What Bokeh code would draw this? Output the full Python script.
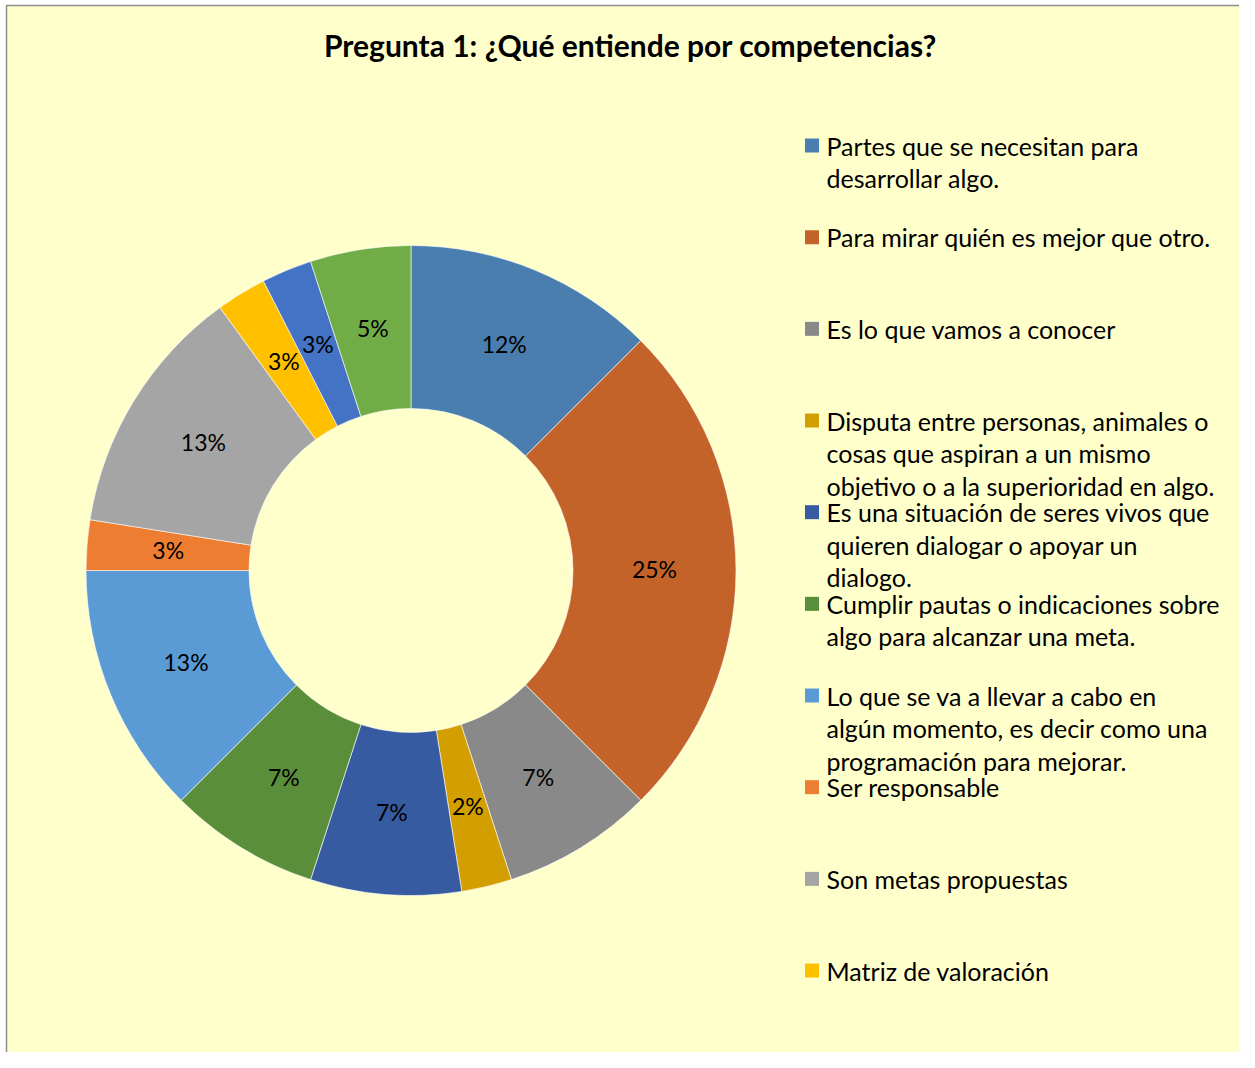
import numpy as np
from bokeh.plotting import figure
from bokeh.models import Range1d, ColumnDataSource
from bokeh.core.properties import value
from bokeh.embed import file_html
from bokeh.resources import INLINE

# ---- data ----
title = "Pregunta 1: ¿Qué entiende por competencias?"
categories = [
    "Partes que se necesitan para\ndesarrollar algo.",
    "Para mirar quién es mejor que otro.",
    "Es lo que vamos a conocer",
    "Disputa entre personas, animales o\ncosas que aspiran a un mismo\nobjetivo o a la superioridad en algo.",
    "Es una situación de seres vivos que\nquieren dialogar o apoyar un\ndialogo.",
    "Cumplir pautas o indicaciones sobre\nalgo para alcanzar una meta.",
    "Lo que se va a llevar a cabo en\nalgún momento, es decir como una\nprogramación para mejorar.",
    "Ser responsable",
    "Son metas propuestas",
    "Matriz de valoración",
    "Otro 1",
    "Otro 2",
]
values = [12.5, 25.0, 7.5, 2.5, 7.5, 7.5, 12.5, 2.5, 12.5, 2.5, 2.5, 5.0]
pct_labels = ["12%", "25%", "7%", "2%", "7%", "7%", "13%", "3%", "13%", "3%", "3%", "5%"]
colors = ["#4A7EAF", "#C3632A", "#898989", "#D29E00", "#375BA0", "#5B8E3B",
          "#5B9BD5", "#ED7D31", "#A5A5A5", "#FFC000", "#4472C4", "#70AD47"]
legend_count = 10  # only the first ten entries are visible in the legend

# ---- layout (image pixel coords -> data coords, y up) ----
W, H = 1239, 1052
IMG_H = 1068
def Y(img_y):
    return IMG_H - img_y

BG = "#FFFFCC"
FONT = "Lato"

p = figure(width=W, height=H, output_backend="svg", toolbar_location=None,
           x_range=Range1d(0, W), y_range=Range1d(IMG_H - H, IMG_H),
           min_border=0, background_fill_color="#FFFFFF", border_fill_color="#FFFFFF",
           outline_line_color=None)
p.axis.visible = False
p.grid.visible = False

# chart area frame
p.quad(left=[6], right=[1253], top=[Y(5)], bottom=[Y(1080)],
       fill_color=BG, line_color="#8C8C8C", line_width=1.5)

# ---- donut ----
cx, cy = 410.5, Y(570)
r_out, r_in = 325, 162
vals = np.array(values, dtype=float)
frac = vals / vals.sum()
cum_end = np.cumsum(frac)
cum_start = cum_end - frac
start = np.pi / 2 - 2 * np.pi * cum_end
end = np.pi / 2 - 2 * np.pi * cum_start
src = ColumnDataSource(dict(start=start, end=end, color=colors))
p.annular_wedge(x=cx, y=cy, inner_radius=r_in, outer_radius=r_out,
                start_angle="start", end_angle="end", fill_color="color",
                line_color="#FFFFFF", line_width=0.6, source=src)

mid = (start + end) / 2
r_lab = (r_in + r_out) / 2
lab_src = ColumnDataSource(dict(x=cx + r_lab * np.cos(mid), y=cy + r_lab * np.sin(mid) + 1.5, t=pct_labels))
p.text(x="x", y="y", text="t", source=lab_src, text_font=value(FONT),
       text_font_size="23px", text_align="center", text_baseline="middle",
       text_color="#000000")

# ---- title ----
p.text(x=[630], y=[Y(44)], text=[title], text_font=value(FONT),
       text_font_size="30px", text_font_style="bold", text_align="center",
       text_baseline="middle", text_color="#000000")

# ---- legend ----
sq_x, sq_y0 = 811.5, 145.0
txt_x, mid0 = 826.0, 145.0
step, line_gap = 91.67, 32.6
sq_xs, sq_ys, sq_cs = [], [], []
lx, ly, lt = [], [], []
for i in range(legend_count):
    sq_xs.append(sq_x)
    sq_ys.append(Y(sq_y0 + i * step))
    sq_cs.append(colors[i])
    for j, line in enumerate(categories[i].split("\n")):
        lx.append(txt_x)
        ly.append(Y(mid0 + i * step + j * line_gap))
        lt.append(line)
p.rect(x=sq_xs, y=sq_ys, width=14, height=14, fill_color=sq_cs, line_color=None)
p.text(x=lx, y=ly, text=lt, text_font=value(FONT), text_font_size="25px",
       text_align="left", text_baseline="middle", text_color="#000000")

open("out.html", "w").write(file_html(p, INLINE))
